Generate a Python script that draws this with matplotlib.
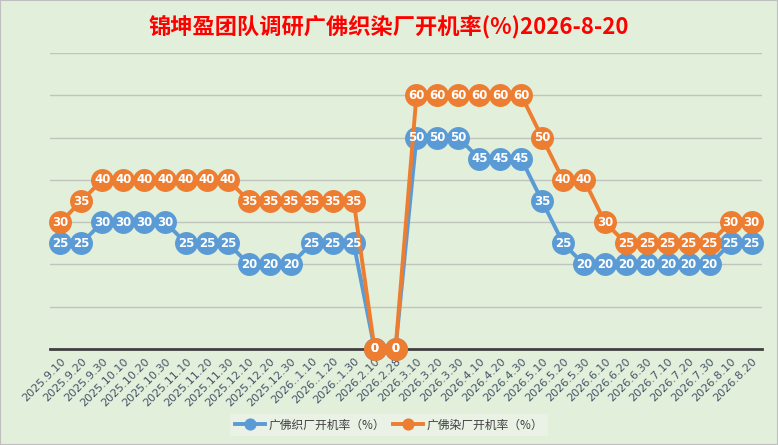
import matplotlib
matplotlib.use("Agg")
import matplotlib.pyplot as plt

plt.rcParams['font.family'] = ['Noto Sans CJK SC', 'DejaVu Sans']

dates = ["2025.9.10", "2025.9.20", "2025.9.30", "2025.10.10", "2025.10.20", "2025.10.30",
         "2025.11.10", "2025.11.20", "2025.11.30", "2025.12.10", "2025.12.20", "2025.12.30",
         "2026..1.10", "2026..1.20", "2026..1.30", "2026.2.10", "2026.2.28",
         "2026.3.10", "2026.3.20", "2026.3.30", "2026.4.10", "2026.4.20", "2026.4.30",
         "2026.5.10", "2026.5.20", "2026.5.30", "2026.6.10", "2026.6.20", "2026.6.30",
         "2026.7.10", "2026.7.20", "2026.7.30", "2026.8.10", "2026.8.20"]

weave = [25, 25, 30, 30, 30, 30, 25, 25, 25, 20, 20, 20, 25, 25, 25, 0, 0,
         50, 50, 50, 45, 45, 45, 35, 25, 20, 20, 20, 20, 20, 20, 20, 25, 25]
dye = [30, 35, 40, 40, 40, 40, 40, 40, 40, 35, 35, 35, 35, 35, 35, 0, 0,
       60, 60, 60, 60, 60, 60, 50, 40, 40, 30, 25, 25, 25, 25, 25, 30, 30]

bg = "#E2EFDA"
blue = "#5B9BD5"
orange = "#ED7D31"

fig = plt.figure(figsize=(7.78, 4.45), dpi=100, facecolor=bg)
ax = fig.add_axes([50 / 778, 1 - 349 / 445, 712 / 778, 296 / 445])
ax.set_facecolor(bg)

x = list(range(len(dates)))
ax.plot(x, weave, color=blue, lw=2.8, marker="o", ms=15.5, mec=blue, mfc=blue,
        label="广佛织厂开机率（%）", zorder=3, clip_on=False)
ax.plot(x, dye, color=orange, lw=2.8, marker="o", ms=15.5, mec=orange, mfc=orange,
        label="广佛染厂开机率（%）", zorder=4, clip_on=False)

for i, v in enumerate(weave):
    ax.text(i, v, str(v), color="white", ha="center", va="center", fontsize=8.5,
            fontweight="bold", family="DejaVu Sans", zorder=5)
for i, v in enumerate(dye):
    ax.text(i, v, str(v), color="white", ha="center", va="center", fontsize=8.5,
            fontweight="bold", family="DejaVu Sans", zorder=6)

ax.set_xlim(-0.5, len(dates) - 0.5)
ax.set_ylim(0, 70)
ax.set_yticks(range(10, 71, 10))
ax.yaxis.grid(True, color="#BFC4BC", lw=1)
ax.set_axisbelow(True)
ax.tick_params(axis="y", left=False, labelleft=False)
ax.tick_params(axis="x", length=0, pad=5)
for s in ["top", "right", "left"]:
    ax.spines[s].set_visible(False)
ax.spines["bottom"].set_color("#404040")
ax.spines["bottom"].set_linewidth(2)
ax.spines["bottom"].set_zorder(2)

ax.set_xticks(x)
ax.set_xticklabels(dates, rotation=45, ha="right", rotation_mode="anchor",
                   fontsize=8, color="#44546A", family="DejaVu Sans")

fig.text(0.5, 1 - 27 / 445, "锦坤盈团队调研广佛织染厂开机率(%)2026-8-20", color="#FF0000",
         fontsize=16, fontweight="bold", ha="center", va="center")

leg = fig.legend(loc="center", bbox_to_anchor=(389 / 778, 1 - 425 / 445), ncol=2,
                 frameon=True, fontsize=8.5, markerscale=0.5, handlelength=2.6,
                 handletextpad=0.3, columnspacing=0.6, borderpad=0.35, fancybox=False)
leg.get_frame().set_facecolor("#EDF3EA")
leg.get_frame().set_edgecolor("none")
for t in leg.get_texts():
    t.set_color("#404040")

fig.add_artist(plt.Rectangle((0, 0), 1, 1, transform=fig.transFigure, fill=False,
                             edgecolor="#BFBFBF", lw=1.5))

fig.savefig("out.png", dpi=100, facecolor=bg)
